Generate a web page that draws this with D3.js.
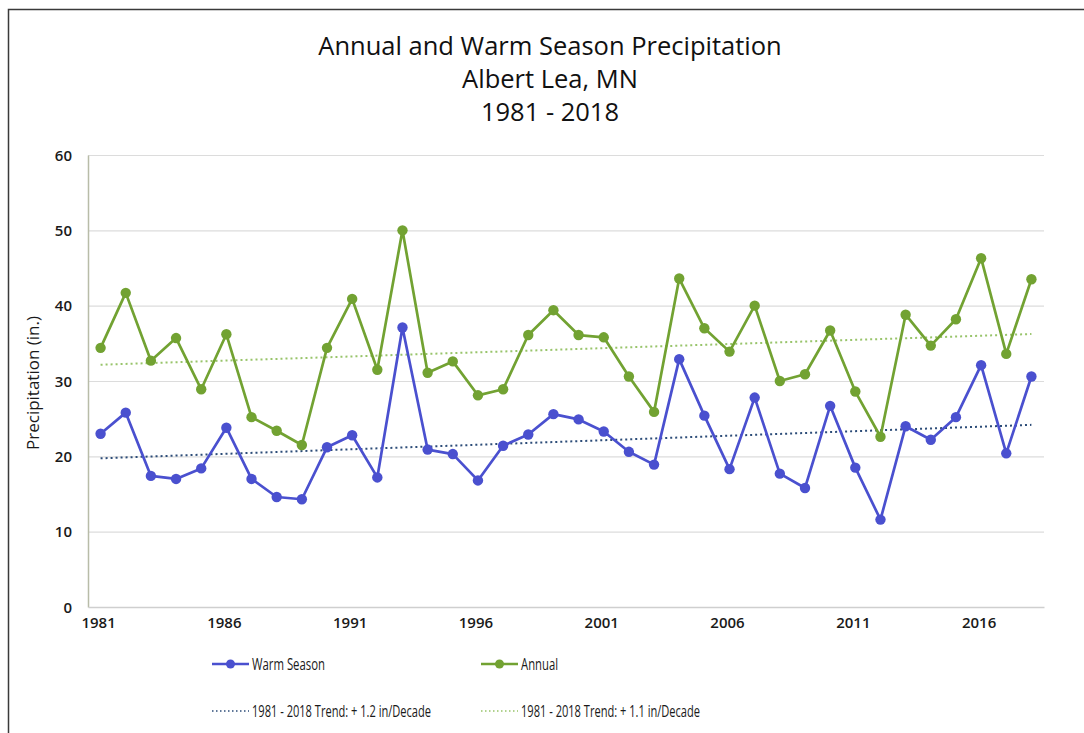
<!DOCTYPE html>
<html>
<head>
<meta charset="utf-8">
<script src="https://cdn.jsdelivr.net/npm/d3@7"></script>
<style>
  html, body { margin: 0; padding: 0; background: #fff; }
  svg { display: block; font-family: "Open Sans", Lato, sans-serif; }
</style>
</head>
<body>
<svg id="chart" width="1084" height="733"></svg>
<script>
// Albert Lea, MN precipitation totals (inches), 1981-2018
const years = d3.range(1981, 2019);
const warmSeason = [
  23.0, 25.8, 17.4, 17.0, 18.4, 23.8, 17.0, 14.6, 14.3, 21.2,
  22.8, 17.2, 37.1, 20.9, 20.3, 16.8, 21.4, 22.9, 25.6, 24.9,
  23.3, 20.6, 18.9, 32.9, 25.4, 18.3, 27.8, 17.7, 15.8, 26.7,
  18.5, 11.6, 24.0, 22.2, 25.2, 32.1, 20.4, 30.6
];
const annual = [
  34.4, 41.7, 32.7, 35.7, 28.9, 36.2, 25.2, 23.4, 21.5, 34.4,
  40.9, 31.5, 50.0, 31.1, 32.6, 28.1, 28.9, 36.1, 39.4, 36.1,
  35.8, 30.6, 25.9, 43.6, 37.0, 33.9, 40.0, 30.0, 30.9, 36.7,
  28.6, 22.6, 38.8, 34.7, 38.2, 46.3, 33.6, 43.5
];
// Trend rates quoted in the legend (inches per decade)
const warmTrendPerDecade = 1.2;
const annualTrendPerDecade = 1.1;
const yTicks = [0, 10, 20, 30, 40, 50, 60];
const xTickYears = [1981, 1986, 1991, 1996, 2001, 2006, 2011, 2016];

const svg = d3.select("#chart");
const margin = { left: 88, right: 1044, top: 155, bottom: 607 };

const x = d3.scaleBand().domain(years).range([margin.left, margin.right]);
const cx = yr => x(yr) + x.bandwidth() / 2;
const y = d3.scaleLinear().domain([0, 60]).range([margin.bottom, margin.top]);

// outer frame (top and left edges)
svg.append("path")
  .attr("d", "M8.5,733 V9.5 H1084")
  .attr("fill", "none").attr("stroke", "#3a3a3a").attr("stroke-width", 1.5);

// title
const titleLines = ["Annual and Warm Season Precipitation", "Albert Lea, MN", "1981 - 2018"];
svg.append("g").selectAll("text").data(titleLines).join("text")
  .attr("x", 550).attr("y", (d, i) => 55 + i * 33)
  .attr("text-anchor", "middle").attr("fill", "#111")
  .style("font-size", "25.5px")
  .text(d => d);

// gridlines
svg.append("g").selectAll("line").data(yTicks.filter(v => v > 0)).join("line")
  .attr("x1", margin.left).attr("x2", margin.right)
  .attr("y1", d => y(d) + 0.5).attr("y2", d => y(d) + 0.5)
  .attr("stroke", "#dcdcdc").attr("stroke-width", 1.2);

// axes
const yAxis = svg.append("g").attr("transform", `translate(${margin.left},0)`)
  .call(d3.axisLeft(y).tickValues(yTicks).tickSize(0).tickPadding(16));
yAxis.select(".domain").attr("stroke", "#b8bca8").attr("stroke-width", 1.5);
yAxis.selectAll("text").style("font-size", "15px").style("font-weight", "600")
  .style("font-family", "'Open Sans', sans-serif")
  .attr("fill", "#1a1a1a").attr("dy", "0.35em");

const xAxis = svg.append("g").attr("transform", `translate(0,${margin.bottom})`)
  .call(d3.axisBottom(x).tickValues(xTickYears).tickSize(0).tickPadding(10));
xAxis.select(".domain").attr("stroke", "#cfcfcf").attr("stroke-width", 1.5);
xAxis.selectAll("text").style("font-size", "15px").style("font-weight", "600")
  .style("font-family", "'Open Sans', sans-serif")
  .attr("fill", "#1a1a1a").attr("dx", "-2px");

svg.append("text")
  .attr("transform", "translate(39,383) rotate(-90)")
  .attr("text-anchor", "middle").attr("fill", "#1a1a1a")
  .style("font-size", "17px")
  .text("Precipitation (in.)");

// trend lines: least-squares form through the series mean with the quoted slope
function trend(values, perDecade) {
  const mx = d3.mean(years), my = d3.mean(values);
  const slope = perDecade / 10;
  return [years[0], years[years.length - 1]].map(yr => [yr, my + slope * (yr - mx)]);
}
const warmColor = "#4a50cf";
const annualColor = "#72a232";
const warmTrendColor = "#2c4c78";
const annualTrendColor = "#98c46a";

const line = d3.line().x(d => cx(d[0])).y(d => y(d[1]));

svg.append("path").datum(trend(annual, annualTrendPerDecade))
  .attr("d", line).attr("fill", "none")
  .attr("stroke", annualTrendColor).attr("stroke-width", 2).attr("stroke-dasharray", "2,3");
svg.append("path").datum(trend(warmSeason, warmTrendPerDecade))
  .attr("d", line).attr("fill", "none")
  .attr("stroke", warmTrendColor).attr("stroke-width", 2).attr("stroke-dasharray", "2,3");

function series(values, color) {
  const pts = years.map((yr, i) => [yr, values[i]]);
  svg.append("path").datum(pts).attr("d", line).attr("fill", "none")
    .attr("stroke", color).attr("stroke-width", 2.7).attr("stroke-linejoin", "round");
  svg.append("g").selectAll("circle").data(pts).join("circle")
    .attr("cx", d => cx(d[0])).attr("cy", d => y(d[1])).attr("r", 5.2)
    .attr("fill", color);
}
series(annual, annualColor);
series(warmSeason, warmColor);

// legend (text fitted to a condensed width)
const legend = svg.append("g").style("font-size", "16px").attr("fill", "#1a1a1a");
function legendItem(x0, y0, color, label, dotted, width) {
  legend.append("line").attr("x1", x0).attr("x2", x0 + 37).attr("y1", y0).attr("y2", y0)
    .attr("stroke", color).attr("stroke-width", dotted ? 1.6 : 2.4)
    .attr("stroke-dasharray", dotted ? "1.5,2.5" : null);
  if (!dotted) {
    legend.append("circle").attr("cx", x0 + 18.5).attr("cy", y0).attr("r", 4.5).attr("fill", color);
  }
  legend.append("text").attr("x", x0 + 40).attr("y", y0).attr("dy", "0.35em")
    .attr("textLength", width).attr("lengthAdjust", "spacingAndGlyphs")
    .text(label);
}
legendItem(212, 664, warmColor, "Warm Season", false, 73);
legendItem(481, 664, annualColor, "Annual", false, 37);
legendItem(212, 711, warmTrendColor, `1981 - 2018 Trend: + ${warmTrendPerDecade.toFixed(1)} in/Decade`, true, 179);
legendItem(481, 711, annualTrendColor, `1981 - 2018 Trend: + ${annualTrendPerDecade.toFixed(1)} in/Decade`, true, 179);
</script>
</body>
</html>
